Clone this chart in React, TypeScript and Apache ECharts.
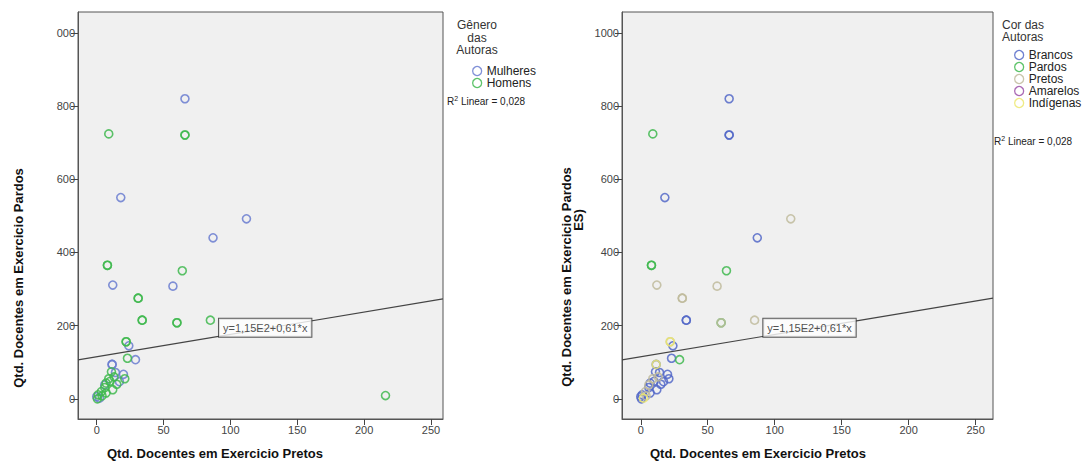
import React, { useEffect, useRef } from "react";
import * as echarts from "echarts";

// ---- data ----
const xPretos = [66, 9, 66, 66, 18, 112, 87, 8, 8, 64, 12, 57, 31, 31, 34, 34, 60, 60, 85, 22, 22, 24, 23, 29, 11.5, 11.5, 11, 14, 20, 21, 17, 9, 7, 6, 12, 6, 3.5, 7, 1, 0, 2, 0.5, 4, 15, 10, 13, 216];
const yPardos = [820, 724, 721, 721, 550, 492, 440, 365, 365, 350, 311, 308, 275, 275, 215, 215, 208, 208, 215, 156, 156, 145, 111, 107, 94, 94, 74, 72, 67, 55, 47, 55, 43, 38, 25, 31, 20, 16, 11, 6, 2, 0, 8, 40, 48, 60, 9];
const genero = ["M", "H", "H", "H", "M", "M", "M", "H", "H", "H", "M", "M", "H", "H", "H", "H", "H", "H", "H", "H", "H", "M", "H", "M", "M", "M", "H", "M", "M", "H", "M", "H", "H", "M", "H", "H", "H", "H", "H", "M", "M", "H", "H", "H", "H", "H", "H"];
const cor = ["B", "Pa", "B", "B", "B", "Pr", "B", "Pa", "Pa", "Pa", "Pr", "Pr", "Pr", "Pr", "B", "B", "Pa", "Pr", "Pr", "Pr", "I", "B", "B", "Pa", "I", "B", "B", "B", "B", "B", "B", "Pr", "B", "Pr", "B", "B", "Pr", "B", "B", "B", "I", "B", "Pr", "B", "B", "Pr", ""];

const generoKeys = ["M", "H"];
const generoNames = ["Mulheres", "Homens"];
const corKeys = ["B", "Pa", "Pr", "A", "I"];
const corNames = ["Brancos", "Pardos", "Pretos", "Amarelos", "Indígenas"];

const xTicks = [0, 50, 100, 150, 200, 250];
const yTicks = [0, 200, 400, 600, 800, 1000];

const regIntercept = 115;
const regSlope = 0.61;
const regLabel = "y=1,15E2+0,61*x";
const regLabelAt = [126, 194];

const xTitle = "Qtd. Docentes em Exercicio Pretos";
const yTitle = "Qtd. Docentes em Exercicio Pardos";

const FONT = "'Liberation Sans', Arial, sans-serif";
const generoColors = ["#6a7dd0", "#3fb84f"];
const corColors = ["#5468c8", "#3fb84f", "#bfbb9c", "#9b4fa8", "#ece86e"];

function pointsFor(keys: string[], key: string) {
  const out: number[][] = [];
  for (let i = 0; i < xPretos.length; i++) {
    if (keys[i] === key) out.push([xPretos[i], yPardos[i]]);
  }
  return out;
}

export default function App() {
  const ref = useRef<HTMLDivElement>(null);
  useEffect(() => {
    if (!ref.current) return;
    const chart = echarts.init(ref.current, undefined, { renderer: "svg" });

    const xRanges = [
      [-14, 259],
      [-14, 263],
    ];
    const yRange = [-55, 1057];

    const makeX = (gi: number) => ({
      type: "value",
      gridIndex: gi,
      min: xRanges[gi][0],
      max: xRanges[gi][1],
      axisLine: { show: true, onZero: false, lineStyle: { color: "#555", width: 1 } },
      axisTick: { show: true, length: 6, customValues: xTicks, lineStyle: { color: "#444" } },
      axisLabel: { customValues: xTicks, color: "#444", fontSize: 11, fontFamily: FONT, margin: 5 },
      splitLine: { show: false },
    });
    const makeY = (gi: number) => ({
      type: "value",
      gridIndex: gi,
      min: yRange[0],
      max: yRange[1],
      axisLine: { show: true, onZero: false, lineStyle: { color: "#555", width: 1 } },
      axisTick: { show: true, length: 7, customValues: yTicks, lineStyle: { color: "#444" } },
      axisLabel: {
        customValues: yTicks,
        color: "#444",
        fontSize: 11,
        fontFamily: FONT,
        margin: 3,
        formatter: (v: number) => (gi === 0 && v === 1000 ? "000" : String(v)),
      },
      splitLine: { show: false },
    });

    const scatterSeries = (name: string, data: number[][], color: string, gi: number) => ({
      type: "scatter",
      name,
      xAxisIndex: gi,
      yAxisIndex: gi,
      data,
      symbol: "circle",
      symbolSize: 8,
      itemStyle: { color: "transparent", borderColor: color, borderWidth: 1.6, opacity: 0.85 },
      emphasis: { disabled: true },
      z: 3,
    });

    const regSeries = (gi: number) => ({
      type: "line",
      xAxisIndex: gi,
      yAxisIndex: gi,
      data: [
        [xRanges[gi][0], regIntercept + regSlope * xRanges[gi][0]],
        [xRanges[gi][1], regIntercept + regSlope * xRanges[gi][1]],
      ],
      symbol: "none",
      lineStyle: { color: "#444", width: 1.2 },
      silent: true,
      z: 2,
    });

    const labelSeries = (gi: number) => ({
      type: "scatter",
      xAxisIndex: gi,
      yAxisIndex: gi,
      data: [regLabelAt],
      symbolSize: 0,
      silent: true,
      z: 10,
      label: {
        show: true,
        position: "inside",
        formatter: regLabel,
        backgroundColor: "#ffffff",
        borderColor: "#333",
        borderWidth: 1,
        padding: [4, 4, 3, 4],
        color: "#222",
        fontSize: 11,
        fontFamily: FONT,
      },
    });

    const series: any[] = [];
    series.push(regSeries(0), regSeries(1));
    generoKeys.forEach((k, i) => series.push(scatterSeries(generoNames[i], pointsFor(genero, k), generoColors[i], 0)));
    corKeys.forEach((k, i) => series.push(scatterSeries(corNames[i], pointsFor(cor, k), corColors[i], 1)));
    series.push(labelSeries(0), labelSeries(1));

    const r2Text = (x: number, y: number) => ({
      type: "text",
      x,
      y,
      style: {
        text: "{a|R}{s|2}{a| Linear = 0,028}",
        rich: {
          a: { fontSize: 10, fontFamily: FONT, fill: "#222", color: "#222" },
          s: { fontSize: 7, fontFamily: FONT, fill: "#222", color: "#222", verticalAlign: "top", padding: [0, 0, 6, 0] },
        },
        verticalAlign: "middle",
      },
    });

    chart.setOption({
      animation: false,
      backgroundColor: "#ffffff",
      grid: [
        { left: 78, top: 12, width: 365, height: 407, show: true, backgroundColor: "#f0f0f0", borderColor: "#555", borderWidth: 1 },
        { left: 622, top: 12, width: 371, height: 407, show: true, backgroundColor: "#f0f0f0", borderColor: "#555", borderWidth: 1 },
      ],
      xAxis: [makeX(0), makeX(1)],
      yAxis: [makeY(0), makeY(1)],
      legend: [
        {
          orient: "vertical",
          left: 467,
          top: 60,
          itemWidth: 9,
          itemHeight: 9,
          itemGap: 0,
          data: generoNames,
          selectedMode: false,
          itemStyle: { borderWidth: 1.3 },
          textStyle: { fontSize: 12, color: "#222", fontFamily: FONT, lineHeight: 11 },
        },
        {
          orient: "vertical",
          left: 1009,
          top: 44,
          itemWidth: 9,
          itemHeight: 9,
          itemGap: 0,
          data: corNames,
          selectedMode: false,
          itemStyle: { borderWidth: 1.3 },
          textStyle: { fontSize: 12, color: "#222", fontFamily: FONT, lineHeight: 12 },
        },
      ],
      graphic: [
        {
          type: "text",
          x: 477,
          y: 19,
          style: { text: "Gênero\ndas\nAutoras", align: "center", fontSize: 12, lineHeight: 12.5, fontFamily: FONT, fill: "#333" },
        },
        {
          type: "text",
          x: 1002,
          y: 19,
          style: { text: "Cor das\nAutoras", align: "left", fontSize: 12, lineHeight: 12, fontFamily: FONT, fill: "#333" },
        },
        r2Text(447, 101),
        r2Text(994, 141),
        {
          type: "text",
          x: 215,
          y: 453,
          style: { text: xTitle, align: "center", verticalAlign: "middle", fontSize: 13, fontWeight: "bold", fontFamily: FONT, fill: "#111" },
        },
        {
          type: "text",
          x: 758,
          y: 453,
          style: { text: xTitle, align: "center", verticalAlign: "middle", fontSize: 13, fontWeight: "bold", fontFamily: FONT, fill: "#111" },
        },
        {
          type: "text",
          x: 18,
          y: 278,
          rotation: Math.PI / 2,
          style: { text: yTitle, align: "center", verticalAlign: "middle", fontSize: 13, fontWeight: "bold", fontFamily: FONT, fill: "#111" },
        },
        {
          type: "text",
          x: 566,
          y: 277,
          rotation: Math.PI / 2,
          style: { text: yTitle, align: "center", verticalAlign: "middle", fontSize: 13, fontWeight: "bold", fontFamily: FONT, fill: "#111" },
        },
        {
          type: "text",
          x: 578,
          y: 220,
          rotation: Math.PI / 2,
          style: { text: "ES)", align: "center", verticalAlign: "middle", fontSize: 13, fontWeight: "bold", fontFamily: FONT, fill: "#111" },
        },
      ],
      series,
    });

    return () => chart.dispose();
  }, []);

  return (
    <div
      ref={ref}
      style={{ position: "fixed", left: 0, top: 0, width: 1086, height: 461, background: "#fff" }}
    />
  );
}
